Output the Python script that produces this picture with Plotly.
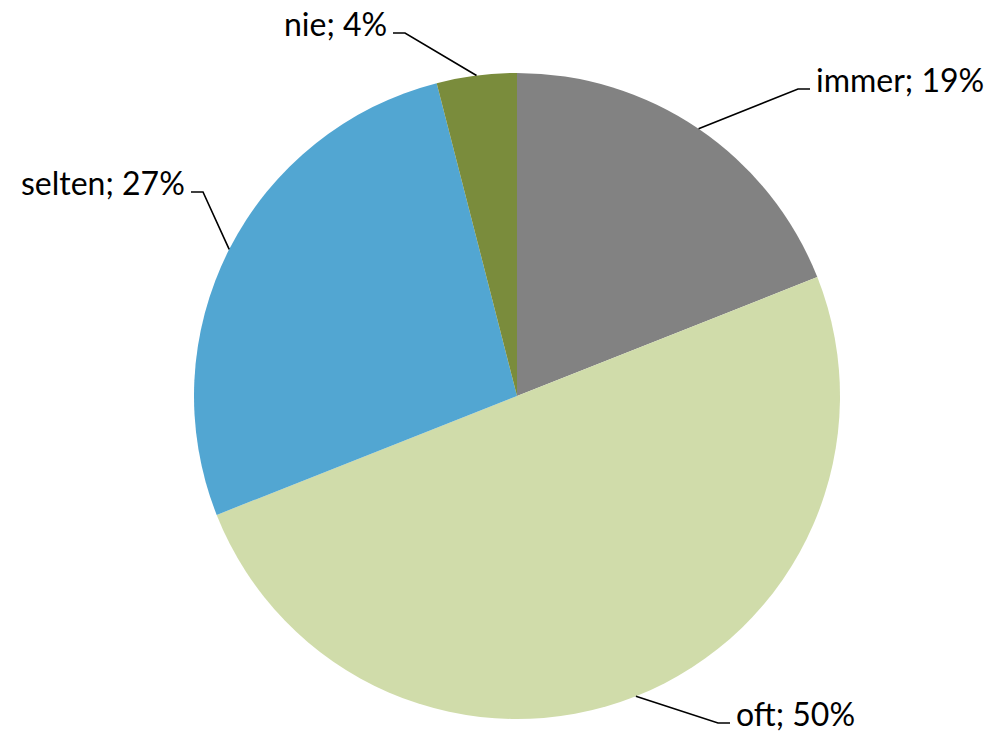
import math
import plotly.graph_objects as go

# ---- data ----
categories = ["immer", "oft", "selten", "nie"]
values = [19, 50, 27, 4]
colors = ["#828282", "#d0dcaa", "#52a6d2", "#7a8c3c"]

# ---- layout (pixel geometry) ----
W, H = 992, 734
OFF = 8  # page body margin compensation
CX, CY, R = 517 - OFF, 396 - OFF, 323
# label elbow offsets relative to the pie centre (px) and text side
label_layout = {
    "immer": {"elbow": (281, -307), "side": "right"},
    "oft": {"elbow": (201, 327), "side": "right"},
    "selten": {"elbow": (-314, -204), "side": "left"},
    "nie": {"elbow": (-112, -363), "side": "left"},
}
FONT = "Lato"
FSIZE = 32

fig = go.Figure()
fig.add_trace(go.Pie(
    labels=categories, values=values, sort=False, direction="clockwise",
    rotation=0, textinfo="none", showlegend=False,
    marker=dict(colors=colors, line=dict(width=0)),
    domain=dict(x=[(CX - R) / W, (CX + R) / W], y=[1 - (CY + R) / H, 1 - (CY - R) / H]),
))

total = sum(values)
cum = 0
shapes, annotations = [], []
for cat, v in zip(categories, values):
    mid = (cum + v / 2) / total * 2 * math.pi
    cum += v
    ax_ = CX + R * math.sin(mid)
    ay_ = CY - R * math.cos(mid)
    ex, ey = CX + label_layout[cat]["elbow"][0], CY + label_layout[cat]["elbow"][1]
    side = label_layout[cat]["side"]
    hx = ex + 12 if side == "right" else ex - 12
    shapes.append(dict(type="path", xref="x", yref="y",
                       path=f"M {ax_},{ay_} L {ex},{ey} L {hx},{ey}",
                       line=dict(color="black", width=1.6)))
    pct = round(v / total * 100)
    annotations.append(dict(
        x=hx + (4 if side == "right" else -4), y=ey - 10, xref="x", yref="y",
        text=f"{cat}; {pct}%", showarrow=False,
        xanchor="left" if side == "right" else "right", yanchor="middle",
        font=dict(family=FONT, size=FSIZE, color="black")))

fig.update_layout(
    width=W, height=H, margin=dict(l=0, r=0, t=0, b=0),
    paper_bgcolor="white", plot_bgcolor="rgba(0,0,0,0)",
    xaxis=dict(range=[0, W], visible=False, domain=[0, 1], fixedrange=True),
    yaxis=dict(range=[H, 0], visible=False, domain=[0, 1], fixedrange=True),
    shapes=shapes, annotations=annotations,
)
fig.write_html("out.html")
